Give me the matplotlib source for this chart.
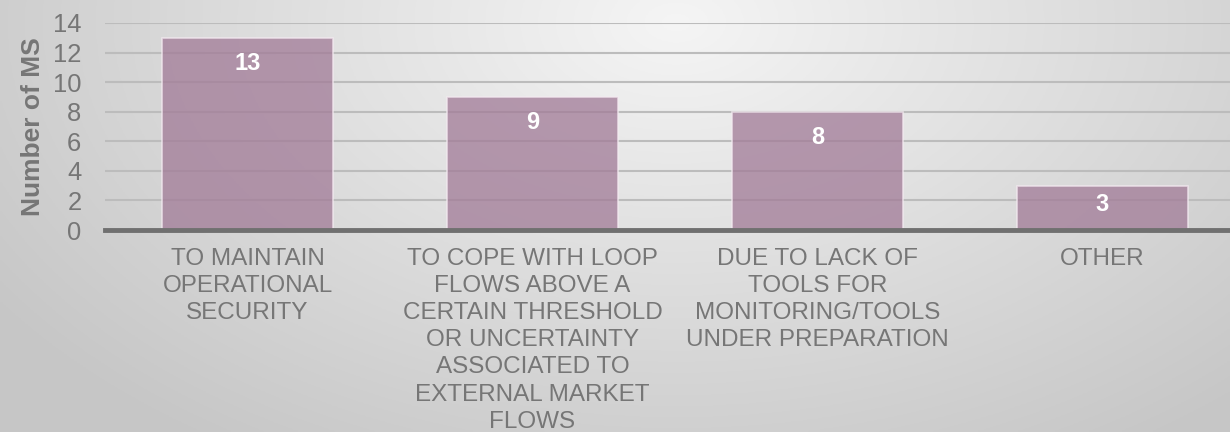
import numpy as np
import matplotlib.pyplot as plt

plt.rcParams['font.family'] = ['Liberation Sans', 'DejaVu Sans']

categories = [
    "TO MAINTAIN\nOPERATIONAL\nSECURITY",
    "TO COPE WITH LOOP\nFLOWS ABOVE A\nCERTAIN THRESHOLD\nOR UNCERTAINTY\nASSOCIATED TO\nEXTERNAL MARKET\nFLOWS",
    "DUE TO LACK OF\nTOOLS FOR\nMONITORING/TOOLS\nUNDER PREPARATION",
    "OTHER",
]
values = [13, 9, 8, 3]
yTicks = [0, 2, 4, 6, 8, 10, 12, 14]

TEXT_GRAY = "#767676"

fig = plt.figure(figsize=(12.3, 4.32), dpi=100)

# radial gradient background
bg = fig.add_axes([0, 0, 1, 1], zorder=-10)
gx, gy = np.meshgrid(np.linspace(0, 1, 400), np.linspace(0, 1, 200))
dist = np.sqrt(((gx - 0.55) * 1.6) ** 2 + ((gy - 0.05) * 0.9) ** 2)
shade = np.clip(0.96 - 0.17 * dist, 0.78, 0.96)
bg.imshow(np.dstack([shade] * 3), aspect="auto", extent=[0, 1, 0, 1], origin="upper")
bg.axis("off")

ax = fig.add_axes([105 / 1230, 1 - 230 / 432, 1 - 105 / 1230, 207 / 432])
ax.patch.set_alpha(0)
x = np.arange(len(values))
bars = ax.bar(x, values, width=0.6, color="#a27c98", alpha=0.76,
              edgecolor="#f4eaf1", linewidth=1.2, zorder=2)
for b, v in zip(bars, values):
    ax.text(b.get_x() + b.get_width() / 2, v - min(1.72, v * 0.43), str(v), ha="center",
            va="center", color="white", fontsize=17, fontweight="bold", zorder=3)

ax.set_xlim(-0.5, 3.5 - 15 / 285)
ax.set_ylim(0, 14)
ax.set_yticks(yTicks)
ax.set_yticklabels([str(t) for t in yTicks], fontsize=18.4, color=TEXT_GRAY)
ax.set_xticks(x)
ax.set_xticklabels(categories, fontsize=17.5, color=TEXT_GRAY, linespacing=1.3, va="top")
ax.tick_params(axis="both", length=0)
ax.tick_params(axis="x", pad=13)
ax.tick_params(axis="y", pad=17)
ax.grid(axis="y", color="#bcbcbc", linewidth=1.5, zorder=1)
ax.set_axisbelow(True)
for s in ["top", "right", "left"]:
    ax.spines[s].set_visible(False)
ax.spines["bottom"].set_color("#707070")
ax.spines["bottom"].set_linewidth(3.5)
ax.spines["bottom"].set_zorder(4)
ax.set_ylabel("Number of MS", fontsize=19, fontweight="bold", color=TEXT_GRAY, labelpad=6)

fig.savefig("out.png", dpi=100)
